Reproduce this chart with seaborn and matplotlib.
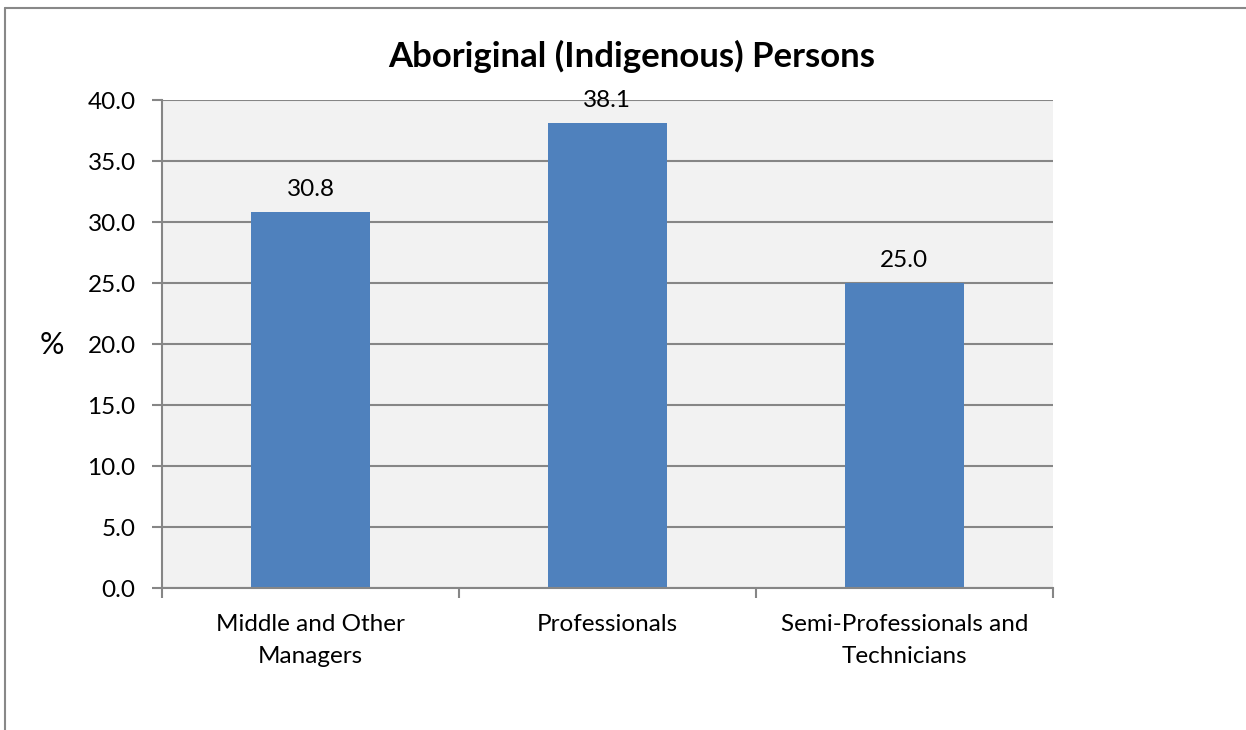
import pandas as pd
import numpy as np
import seaborn as sns
import matplotlib.pyplot as plt
from matplotlib.lines import Line2D

categories = ["Middle and Other\nManagers", "Professionals", "Semi-Professionals and\nTechnicians"]
values = [30.8, 38.1, 25.0]
yticks = [0, 5, 10, 15, 20, 25, 30, 35, 40]

df = pd.DataFrame({"category": categories, "pct": values})

sns.set_style("white")
plt.rcParams["font.family"] = ["Lato", "DejaVu Sans"]
plt.rcParams["text.color"] = "black"
plt.rcParams["xtick.labelcolor"] = "black"
plt.rcParams["ytick.labelcolor"] = "black"

fig = plt.figure(figsize=(12.46, 7.30), dpi=100)
ax = fig.add_axes([0.130, 0.1945, 0.715, 0.6685])
ax.set_facecolor("#F2F2F2")

sns.barplot(data=df, x="category", y="pct", color="#4F81BD", saturation=1,
            width=0.4, linewidth=0, ax=ax)

ax.set_ylim(0, 40)
ax.set_xlim(-0.5, 2.5)
ax.set_yticks(yticks)
ax.set_yticklabels([f"{v:.1f}" for v in yticks], fontsize=17.5)
ax.yaxis.grid(True, color="#868686", linewidth=1.5)
ax.set_axisbelow(True)
ax.tick_params(axis="y", length=7, width=1.5, color="#868686", pad=12, left=True)
ax.tick_params(axis="x", which="major", length=0, labelsize=17.5, pad=19)
ax.set_xticks([-0.5, 0.5, 1.5, 2.5], minor=True)
ax.tick_params(axis="x", which="minor", length=7, width=1.5, color="#868686", bottom=True)
for lbl in ax.get_xticklabels():
    lbl.set_linespacing(1.6)

for s in ["top", "right"]:
    ax.spines[s].set_visible(False)
for s in ["left", "bottom"]:
    ax.spines[s].set_color("#868686")
    ax.spines[s].set_linewidth(1.5)

ax.bar_label(ax.containers[0], fmt="%.1f", padding=9, fontsize=17.5, color="black")

ax.set_xlabel("")
ax.set_ylabel("")
fig.text(0.042, 0.527, "%", fontsize=22, ha="center", va="center")
fig.text(0.507, 0.923, "Aboriginal (Indigenous) Persons", fontsize=25,
         fontweight="bold", ha="center", va="center")

# chart frame (top and left edges)
fig.add_artist(Line2D([0.004, 1.0], [0.989, 0.989], color="#888888", linewidth=1.5))
fig.add_artist(Line2D([0.004, 0.004], [0.0, 0.989], color="#888888", linewidth=1.5))

fig.savefig("out.png", dpi=100)
